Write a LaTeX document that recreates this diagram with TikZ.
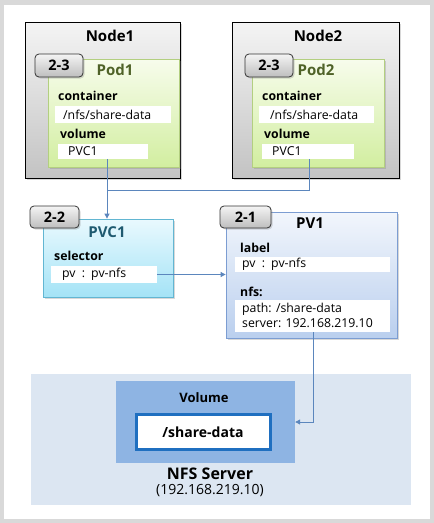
\documentclass[tikz,border=0pt]{standalone}
\usepackage{fontspec}
\setmainfont{Open Sans}
\usetikzlibrary{arrows.meta,shadows}
\definecolor{frame}{HTML}{D9D9D9}
\definecolor{nodetop}{HTML}{F4F4F4}
\definecolor{nodebot}{HTML}{C3C3C3}
\definecolor{podtop}{HTML}{F7FCEC}
\definecolor{podbot}{HTML}{D2EEA0}
\definecolor{podline}{HTML}{B3CF80}
\definecolor{podtxt}{HTML}{4F6228}
\definecolor{pvctop}{HTML}{E9F9FE}
\definecolor{pvcbot}{HTML}{A4E3F6}
\definecolor{pvcline}{HTML}{62B6D2}
\definecolor{pvctxt}{HTML}{1F5A70}
\definecolor{pvtop}{HTML}{F2F6FC}
\definecolor{pvbot}{HTML}{BACFEE}
\definecolor{pvline}{HTML}{7C9DD2}
\definecolor{badgetop}{HTML}{F4F4F4}
\definecolor{badgebot}{HTML}{BEBEBE}
\definecolor{conncol}{HTML}{5B86BD}
\definecolor{nfsarea}{HTML}{DCE6F2}
\definecolor{volfill}{HTML}{8EB4E3}
\definecolor{sharebd}{HTML}{1F6FC0}
\tikzset{
  shad/.style={drop shadow={opacity=0.3,shadow xshift=1.5pt,shadow yshift=-1.5pt}},
  nodebox/.style={draw=black, line width=0.8pt, inner sep=0pt, top color=nodetop, bottom color=nodebot, shad},
  podbox/.style={draw=podline, line width=0.8pt, inner sep=0pt, top color=podtop, bottom color=podbot, shad},
  pvcbox/.style={draw=pvcline, line width=0.8pt, inner sep=0pt, top color=pvctop, bottom color=pvcbot, shad},
  pvbox/.style={draw=pvline, line width=0.8pt, inner sep=0pt, top color=pvtop, bottom color=pvbot, shad},
  badge/.style={draw=black!80, line width=0.8pt, rounded corners=4pt, inner sep=0pt, minimum width=48pt, minimum height=23pt, top color=badgetop, bottom color=badgebot, font=\bfseries\fontsize{14.5}{16}\selectfont, shad},
  ttl/.style={font=\bfseries\fontsize{15}{18}\selectfont, inner sep=0pt},
  lbl/.style={font=\bfseries\fontsize{12.3}{14}\selectfont, anchor=west, inner sep=0pt},
  val/.style={font=\fontsize{12.3}{14}\selectfont, anchor=west, inner sep=0pt},
  wbox/.style={fill=white, draw=none, inner sep=0pt},
  conn/.style={draw=conncol, line width=0.9pt},
  arr/.style={conn, -{Triangle[length=5pt,width=5pt]}}
}
\begin{document}
\begin{tikzpicture}[x=1pt,y=-1pt]
\useasboundingbox (0,0) rectangle (434,523);
\fill[frame] (0,0) rectangle (434,523);
\fill[white] (4,5) rectangle (430,519);

% Node1
\node[nodebox, minimum width=155pt, minimum height=156pt] (node1) at (102.5,100) {};
\node[ttl] (node1t) at (110,36) {Node1};
\node[podbox, minimum width=131pt, minimum height=108pt] (pod1) at (113.5,113) {};
\node[badge] (b1) at (59,65.5) {2-3};
\node[ttl, text=podtxt] (pod1t) at (115,70) {Pod1};
\node[lbl] (ct1) at (58,96) {container};
\node[wbox, minimum width=116pt, minimum height=17pt] (c1) at (113,114.5) {};
\node[val] (c1t) at (63,114.5) {/nfs/share-data};
\node[lbl] (vl1) at (60,134) {volume};
\node[wbox, minimum width=90pt, minimum height=15pt] (v1) at (103,151.5) {};
\node[val] (v1t) at (68,151.5) {PVC1};

% Node2
\node[nodebox, minimum width=167pt, minimum height=156pt] (node2) at (315.5,100) {};
\node[ttl] (node2t) at (318,36) {Node2};
\node[podbox, minimum width=132pt, minimum height=108pt] (pod2) at (318,113) {};
\node[badge] (b2) at (269,65.5) {2-3};
\node[ttl, text=podtxt] (pod2t) at (316,70) {Pod2};
\node[lbl] (ct2) at (262,96) {container};
\node[wbox, minimum width=115pt, minimum height=17pt] (c2) at (316.5,114.5) {};
\node[val] (c2t) at (270,114.5) {/nfs/share-data};
\node[lbl] (vl2) at (264,134) {volume};
\node[wbox, minimum width=92pt, minimum height=15pt] (v2) at (308,151.5) {};
\node[val] (v2t) at (272,151.5) {PVC1};

% PVC1
\node[pvcbox, minimum width=130pt, minimum height=78pt] (pvc) at (108,258) {};
\node[badge, minimum width=49pt, minimum height=22pt] (b3) at (54.5,217) {2-2};
\node[ttl, text=pvctxt] (pvct) at (107,232) {PVC1};
\node[lbl] (selt) at (54,256) {selector};
\node[wbox, minimum width=106pt, minimum height=17pt] (sel) at (104,274.5) {};
\node[val] (selv) at (62,274.5) {pv\enspace:\enspace pv-nfs};

% PV1
\node[pvbox, minimum width=171pt, minimum height=126pt] (pv) at (311.5,275) {};
\node[badge, minimum width=51pt, minimum height=22pt] (b4) at (245.5,217) {2-1};
\node[ttl] (pvt) at (310,223) {PV1};
\node[lbl] (labt) at (240,248) {label};
\node[wbox, minimum width=155pt, minimum height=15pt] (lab) at (312.5,264.5) {};
\node[val] (labv) at (242,264.5) {pv\enspace:\enspace pv-nfs};
\node[lbl] (nfst) at (240,292) {nfs:};
\node[wbox, minimum width=155pt, minimum height=32pt] (nfsb) at (312.5,316) {};
\node[val] (nfsp) at (242,309.5) {path: /share-data};
\node[val] (nfss) at (242,323.5) {server: 192.168.219.10};

% NFS server
\node[fill=nfsarea, inner sep=0pt, minimum width=380pt, minimum height=131pt] (area) at (221,439.5) {};
\node[fill=volfill, inner sep=0pt, minimum width=179pt, minimum height=82pt] (vol) at (205.5,422) {};
\node[ttl, font=\bfseries\fontsize{13}{15}\selectfont] (volt) at (204,398) {Volume};
\node[fill=white, draw=sharebd, line width=2.6pt, inner sep=0pt, minimum width=134pt, minimum height=35pt] (share) at (203.5,432) {};
\node[ttl, font=\bfseries\fontsize{14}{17}\selectfont] (sharet) at (203,432) {/share-data};
\node[ttl, font=\bfseries\fontsize{16}{19}\selectfont] (nfsn) at (210,474) {NFS Server};
\node[inner sep=0pt, font=\fontsize{14}{17}\selectfont] (nfsip) at (210,491) {(192.168.219.10)};

% connectors
\coordinate (j) at (107,190);
\draw[conn] (v1.south -| j) -- (j);
\draw[conn] (v2.south -| 309,0) |- (j);
\draw[arr] (j) -- (pvc.north -| j);
\draw[arr] (sel.east) -- (sel.east -| pv.west);
\draw[arr] (nfsb.south -| 313,0) |- (vol.east);
\end{tikzpicture}
\end{document}
